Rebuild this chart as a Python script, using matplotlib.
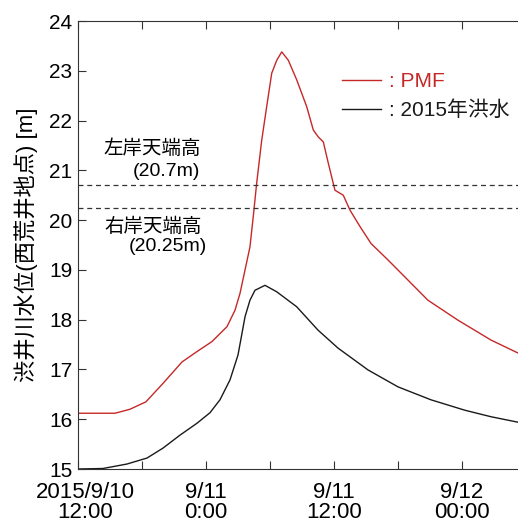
import numpy as np
import pandas as pd
import matplotlib
matplotlib.use("Agg")
import matplotlib.pyplot as plt
import matplotlib.transforms as mtransforms

plt.rcParams['font.family'] = ['Liberation Sans', 'Noto Sans CJK JP']

# hours from 2015/9/10 12:00, water level [m]
pmf_hours = [0.0, 3.47, 4.87, 6.37, 7.97, 9.75, 11.16, 12.56, 13.97, 14.72, 15.19,
             15.66, 16.12, 16.43, 16.75, 17.22, 17.69, 18.16, 18.63, 19.1, 19.72,
             20.5, 21.44, 22.06, 22.53, 23.0, 23.47, 24.09, 24.87, 25.5, 26.44,
             27.47, 29.06, 32.81, 35.62, 38.72, 41.25, 42.0]
pmf_level = [16.12, 16.12, 16.2, 16.35, 16.72, 17.15, 17.36, 17.56, 17.86, 18.19, 18.53,
             19.0, 19.46, 20.07, 20.74, 21.6, 22.28, 22.95, 23.21, 23.38, 23.21,
             22.82, 22.28, 21.81, 21.67, 21.57, 21.14, 20.6, 20.5, 20.2, 19.87,
             19.53, 19.2, 18.39, 17.99, 17.59, 17.33, 17.25]

flood_hours = [0.0, 2.34, 4.59, 6.47, 7.97, 9.56, 11.16, 12.37, 13.31, 14.25, 15.0,
               15.66, 16.12, 16.59, 17.53, 18.63, 20.5, 22.5, 24.37, 27.19, 30.0,
               33.09, 36.28, 38.72, 41.25, 42.0]
flood_level = [15.0, 15.01, 15.1, 15.22, 15.42, 15.68, 15.92, 16.13, 16.39, 16.79, 17.29,
               18.06, 18.39, 18.59, 18.69, 18.56, 18.26, 17.79, 17.43, 16.99, 16.65,
               16.39, 16.18, 16.05, 15.94, 15.92]

left_bank = 20.7
right_bank = 20.25

tick_labels = ['2015/9/10\n12:00', '', '9/11\n0:00', '', '9/11\n12:00', '', '9/12\n00:00', '']

t0 = pd.Timestamp('2015-09-10 12:00')
pmf_t = t0 + pd.to_timedelta(pmf_hours, unit='h')
flood_t = t0 + pd.to_timedelta(flood_hours, unit='h')

fig = plt.figure(figsize=(5.18, 5.24), dpi=100)
ax = fig.add_axes([78/518, 55/524, 448/518, 448/524])

red = '#c62828'
ax.plot(pmf_t, pmf_level, color=red, lw=1.0, label=': PMF')
ax.plot(flood_t, flood_level, color='#1a1a1a', lw=1.0, label=': 2015年洪水')
ax.axhline(left_bank, color='#333333', lw=0.9, ls=(0, (4, 3)))
ax.axhline(right_bank, color='#333333', lw=0.9, ls=(0, (4, 3)))

ax.text(t0 + pd.Timedelta(hours=6.94), 21.43, '左岸天端高', fontsize=14, ha='center', va='center')
ax.text(t0 + pd.Timedelta(hours=8.25), 20.98, '(%.1fm)' % left_bank, fontsize=14, ha='center', va='center')
ax.text(t0 + pd.Timedelta(hours=7.03), 19.86, '右岸天端高', fontsize=14, ha='center', va='center')
ax.text(t0 + pd.Timedelta(hours=8.44), 19.46, '(%.2fm)' % right_bank, fontsize=14, ha='center', va='center')

ax.set_xlim(t0, t0 + pd.Timedelta(hours=42))
ax.set_ylim(15, 24)
ax.set_yticks(np.arange(15, 25, 1))
xt = [t0 + pd.Timedelta(hours=6 * i) for i in range(8)]
ax.set_xticks(xt)
ax.set_xticklabels(tick_labels, fontsize=16, linespacing=0.98)
ax.tick_params(axis='y', labelsize=15, pad=4)
ax.tick_params(axis='x', pad=9)
ax.tick_params(direction='in', top=True, right=True, length=6, width=0.8, color='#333333')
for s in ax.spines.values():
    s.set_linewidth(0.8)
    s.set_color('#333333')

lab0 = ax.get_xticklabels()[0]
lab0.set_transform(lab0.get_transform() + mtransforms.ScaledTranslation(0.07, 0, fig.dpi_scale_trans))

ax.set_ylabel('渋井川水位(西荒井地点) [m]', fontsize=16, labelpad=8)

leg = ax.legend(loc='upper left', bbox_to_anchor=(256/448, 0.904), frameon=False,
                fontsize=15, handlelength=1.85, handletextpad=0.4, labelspacing=0.45,
                borderaxespad=0)
for txt, c in zip(leg.get_texts(), [red, '#1a1a1a']):
    txt.set_color(c)

fig.savefig('out.png', dpi=100)
